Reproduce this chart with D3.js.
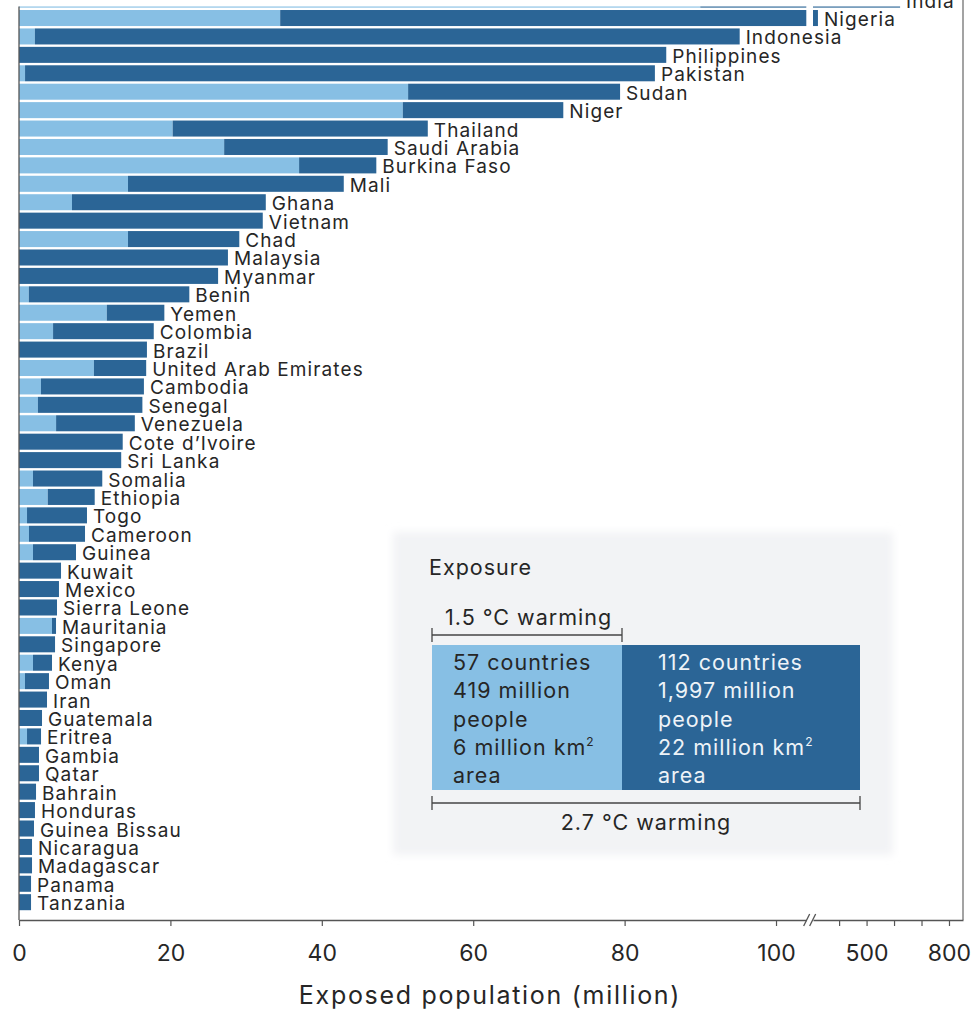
<!DOCTYPE html>
<html>
<head>
<meta charset="utf-8">
<script src="https://cdn.jsdelivr.net/npm/d3@7"></script>
<style>
  html, body { margin: 0; padding: 0; background: #ffffff; }
  svg { display: block; font-family: "Inter", "Open Sans", sans-serif; }
</style>
</head>
<body>
<svg id="chart" width="977" height="1012"></svg>
<script>
// Countries ranked by population exposed to unprecedented heat (million people)
const countries = [
  "India", "Nigeria", "Indonesia", "Philippines", "Pakistan", "Sudan", "Niger",
  "Thailand", "Saudi Arabia", "Burkina Faso", "Mali", "Ghana", "Vietnam", "Chad",
  "Malaysia", "Myanmar", "Benin", "Yemen", "Colombia", "Brazil",
  "United Arab Emirates", "Cambodia", "Senegal", "Venezuela", "Cote d’Ivoire",
  "Sri Lanka", "Somalia", "Ethiopia", "Togo", "Cameroon", "Guinea", "Kuwait",
  "Mexico", "Sierra Leone", "Mauritania", "Singapore", "Kenya", "Oman", "Iran",
  "Guatemala", "Eritrea", "Gambia", "Qatar", "Bahrain", "Honduras",
  "Guinea Bissau", "Nicaragua", "Madagascar", "Panama", "Tanzania"
];

// Exposure at 1.5 °C of warming
const exposure15 = [
  90, 34.5, 2.1, 0, 0.8, 51.4, 50.7,
  20.3, 27.1, 37.0, 14.4, 7.0, 0, 14.4,
  0, 0, 1.3, 11.6, 4.5, 0,
  9.9, 2.9, 2.5, 4.9, 0,
  0, 1.85, 3.8, 1.06, 1.32, 1.85, 0,
  0, 0, 4.36, 0, 1.85, 0.79, 0,
  0, 1.06, 0, 0, 0, 0,
  0, 0, 0, 0, 0
];

// Exposure at 2.7 °C of warming
const exposure27 = [
  622, 323, 95.2, 85.5, 84.0, 79.4, 71.9,
  54.0, 48.7, 47.2, 42.9, 32.6, 32.2, 29.1,
  27.6, 26.3, 22.5, 19.2, 17.8, 16.9,
  16.8, 16.5, 16.3, 15.3, 13.7,
  13.5, 11.0, 10.0, 8.98, 8.72, 7.53, 5.55,
  5.28, 5.02, 4.89, 4.76, 4.36, 3.96, 3.70,
  3.04, 2.91, 2.64, 2.64, 2.25, 2.11,
  1.98, 1.72, 1.72, 1.59, 1.59
];

// Axis ticks on both sides of the broken axis
const lowTicks = [0, 20, 40, 60, 80, 100];
const highTicks = [400, 500, 600, 700, 800];
const highTickLabels = [500, 800];

const LIGHT = "#87bfe4";
const DARK = "#2b6596";
const INK = "#262626";

const svg = d3.select("#chart");

const plotLeft = 19, plotRight = 963, plotTop = 6.6, axisY = 920;
const breakLo = 806.3, breakHi = 813;

// Linear segment below the break and compressed segment above it
const xLow = d3.scaleLinear().domain([0, 104]).range([plotLeft, breakLo]);
const xHigh = d3.scaleLinear().domain([305, 851]).range([breakHi, plotRight]);
const lowMax = xLow.domain()[1];
const highMin = xHigh.domain()[0];

function xPos(v) { return v <= lowMax ? xLow(v) : xHigh(v); }

// Split a value interval into its pixel pieces across the axis break
function pieces(a, b) {
  const out = [];
  if (b <= a) return out;
  if (b <= lowMax) { out.push([xLow(a), xLow(b)]); return out; }
  if (a < lowMax) out.push([xLow(a), xLow(lowMax)]);
  out.push([xHigh(Math.max(a, highMin)), xHigh(b)]);
  return out;
}

const y = d3.scaleBand()
  .domain(countries)
  .range([-9.6, 911.4])
  .paddingInner(0.13)
  .paddingOuter(0.065);

const rows = countries.map((c, i) => ({ name: c, v15: exposure15[i], v27: exposure27[i] }));

const defs = svg.append("defs");
// Plot clip so the top bar runs off the frame
defs.append("clipPath").attr("id", "plotClip")
  .append("rect").attr("x", plotLeft).attr("y", plotTop)
  .attr("width", plotRight - plotLeft).attr("height", axisY - plotTop);

const segs = [];
rows.forEach(r => {
  pieces(0, r.v15).forEach(p => segs.push({ name: r.name, x0: p[0], x1: p[1], fill: LIGHT }));
  pieces(r.v15, r.v27).forEach(p => segs.push({ name: r.name, x0: p[0], x1: p[1], fill: DARK }));
});

svg.append("g").attr("clip-path", "url(#plotClip)")
  .selectAll("rect").data(segs).join("rect")
  .attr("x", d => d.x0)
  .attr("y", d => y(d.name))
  .attr("width", d => Math.max(0, d.x1 - d.x0))
  .attr("height", y.bandwidth())
  .attr("fill", d => d.fill);

// Country labels at the end of each bar
svg.append("g").selectAll("text").data(rows).join("text")
  .attr("x", d => xPos(d.v27) + 6)
  .attr("y", d => y(d.name) + y.bandwidth() / 2 + 8)
  .attr("font-size", 19)
  .attr("letter-spacing", 1.1)
  .attr("fill", INK)
  .text(d => d.name);

// Frame: left axis line and right edge
svg.append("line").attr("x1", plotLeft).attr("x2", plotLeft).attr("y1", plotTop).attr("y2", axisY)
  .attr("stroke", "#555").attr("stroke-width", 1.3);
svg.append("line").attr("x1", plotRight).attr("x2", plotRight).attr("y1", 0).attr("y2", axisY)
  .attr("stroke", "#666").attr("stroke-width", 1.2);

// Bottom axis, two segments
const axLow = svg.append("g").attr("transform", `translate(0,${axisY})`)
  .call(d3.axisBottom(xLow).tickValues(lowTicks).tickSize(6).tickPadding(19).tickSizeOuter(0));
const axHigh = svg.append("g").attr("transform", `translate(0,${axisY})`)
  .call(d3.axisBottom(xHigh).tickValues(highTicks).tickSize(6).tickPadding(19).tickSizeOuter(0)
    .tickFormat(d => highTickLabels.includes(d) ? d : ""));
[axLow, axHigh].forEach(g => {
  g.select(".domain").attr("stroke", "#555").attr("stroke-width", 1.3);
  g.selectAll(".tick line").attr("stroke", "#555").attr("stroke-width", 1.2);
  g.selectAll(".tick text").attr("font-size", 23).attr("fill", INK)
    .attr("font-family", "Inter, 'Open Sans', sans-serif");
});

// Axis break marks
const bx = (breakLo + breakHi) / 2;
[-3, 3].forEach(dx => {
  svg.append("line")
    .attr("x1", bx + dx - 3).attr("y1", axisY + 6)
    .attr("x2", bx + dx + 3).attr("y2", axisY - 6)
    .attr("stroke", "#555").attr("stroke-width", 1.3);
});

svg.append("text")
  .attr("x", 490).attr("y", 1004)
  .attr("text-anchor", "middle")
  .attr("font-size", 25)
  .attr("letter-spacing", 1.7)
  .attr("fill", INK)
  .text("Exposed population (million)");

// Legend panel
const soft = defs.append("filter").attr("id", "soft")
  .attr("x", "-5%").attr("y", "-5%").attr("width", "110%").attr("height", "110%");
soft.append("feGaussianBlur").attr("stdDeviation", 4);

const lg = svg.append("g");
lg.append("rect").attr("x", 393).attr("y", 532).attr("width", 500).attr("height", 323)
  .attr("fill", "#f2f3f5").attr("filter", "url(#soft)");

const LFS = 21.5, LLS = 1;

lg.append("text").attr("x", 429).attr("y", 575).attr("font-size", LFS).attr("letter-spacing", LLS)
  .attr("fill", INK).text("Exposure");

const L0 = 432, L1 = 622, L2 = 860, boxTop = 645, boxBot = 790;

function bracket(x0, x1, yy) {
  lg.append("line").attr("x1", x0).attr("x2", x1).attr("y1", yy).attr("y2", yy)
    .attr("stroke", "#444").attr("stroke-width", 1.3);
  [x0, x1].forEach(xx => lg.append("line").attr("x1", xx).attr("x2", xx)
    .attr("y1", yy - 7).attr("y2", yy + 7).attr("stroke", "#444").attr("stroke-width", 1.3));
}
bracket(L0, L1, 635);
bracket(L0, L2, 803);

lg.append("text").attr("x", 445).attr("y", 625).attr("font-size", LFS).attr("letter-spacing", LLS)
  .attr("fill", INK).text("1.5 °C warming");
lg.append("text").attr("x", (L0 + L2) / 2).attr("y", 830).attr("text-anchor", "middle")
  .attr("font-size", LFS).attr("letter-spacing", LLS).attr("fill", INK).text("2.7 °C warming");

lg.append("rect").attr("x", L0).attr("y", boxTop).attr("width", L1 - L0).attr("height", boxBot - boxTop).attr("fill", LIGHT);
lg.append("rect").attr("x", L1).attr("y", boxTop).attr("width", L2 - L1).attr("height", boxBot - boxTop).attr("fill", DARK);

const leftLines = ["57 countries", "419 million", "people", "6 million km", "area"];
const rightLines = ["112 countries", "1,997 million", "people", "22 million km", "area"];

function block(lines, xx, color) {
  lines.forEach((s, i) => {
    const t = lg.append("text").attr("x", xx).attr("y", 670 + i * 28.3)
      .attr("font-size", LFS).attr("letter-spacing", LLS).attr("fill", color).text(s);
    if (i === 3) t.append("tspan").attr("dy", -9).attr("font-size", 12).text("2");
  });
}
block(leftLines, 453, INK);
block(rightLines, 658, "#eef3f8");
</script>
</body>
</html>
